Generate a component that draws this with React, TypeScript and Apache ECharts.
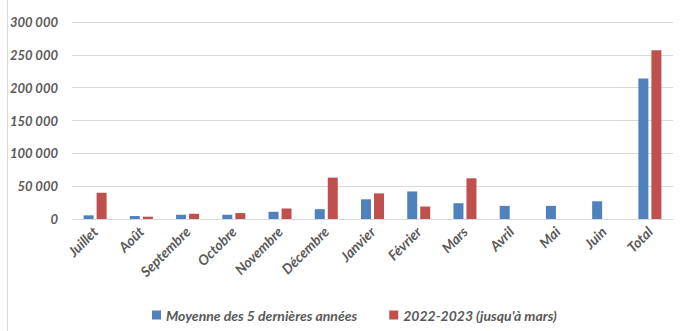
import React, { useEffect, useRef } from "react";
import * as echarts from "echarts";

const categories = ["Juillet", "Août", "Septembre", "Octobre", "Novembre", "Décembre", "Janvier", "Février", "Mars", "Avril", "Mai", "Juin", "Total"];
const moyenne = [5600, 4500, 6500, 6500, 11000, 15000, 30000, 42000, 24000, 20000, 20000, 27000, 214000];
const saison2223: (number | null)[] = [40000, 3500, 8000, 9000, 16000, 63000, 39000, 19000, 62000, null, null, null, 257000];
const seriesNames = ["Moyenne des 5 dernières années", "2022-2023 (jusqu'à mars)"];

const font = "Lato, 'Liberation Sans', sans-serif";
const labelStyle = { fontFamily: font, fontWeight: "bold" as const, fontStyle: "italic" as const, color: "#595959", fontSize: 13 };

export default function App() {
  const ref = useRef<HTMLDivElement>(null);
  useEffect(() => {
    if (!ref.current) return;
    const chart = echarts.init(ref.current, null, { renderer: "svg" });
    chart.setOption({
      animation: false,
      backgroundColor: "#ffffff",
      graphic: [
        { type: "line", shape: { x1: 7.5, y1: 0, x2: 7.5, y2: 331 }, style: { stroke: "#d9d9d9", lineWidth: 1 } },
      ],
      grid: { left: 72, right: 9, top: 22, bottom: 112, containLabel: false },
      legend: {
        bottom: 4,
        left: 147,
        icon: "rect",
        itemWidth: 9,
        itemHeight: 9,
        itemGap: 32,
        textStyle: { ...labelStyle, fontSize: 14 },
        data: seriesNames,
      },
      xAxis: {
        type: "category",
        data: categories,
        axisLine: { lineStyle: { color: "#d9d9d9" } },
        axisTick: { show: false },
        axisLabel: { ...labelStyle, fontSize: 14, rotate: 45, interval: 0, margin: 10 },
      },
      yAxis: {
        type: "value",
        min: 0,
        max: 300000,
        interval: 50000,
        axisLine: { show: false },
        axisTick: { show: false },
        splitLine: { lineStyle: { color: "#d9d9d9" } },
        axisLabel: {
          ...labelStyle,
          margin: 14,
          formatter: (v: number) => String(v).replace(/\B(?=(\d{3})+(?!\d))/g, " "),
        },
      },
      series: [
        { name: seriesNames[0], type: "bar", data: moyenne, barWidth: 10, barGap: "30%", itemStyle: { color: "#4F81BD" } },
        { name: seriesNames[1], type: "bar", data: saison2223, barWidth: 10, itemStyle: { color: "#C0504D" } },
      ],
    });
    return () => chart.dispose();
  }, []);
  return <div ref={ref} style={{ position: "fixed", left: 0, top: 0, width: 682, height: 331 }} />;
}
